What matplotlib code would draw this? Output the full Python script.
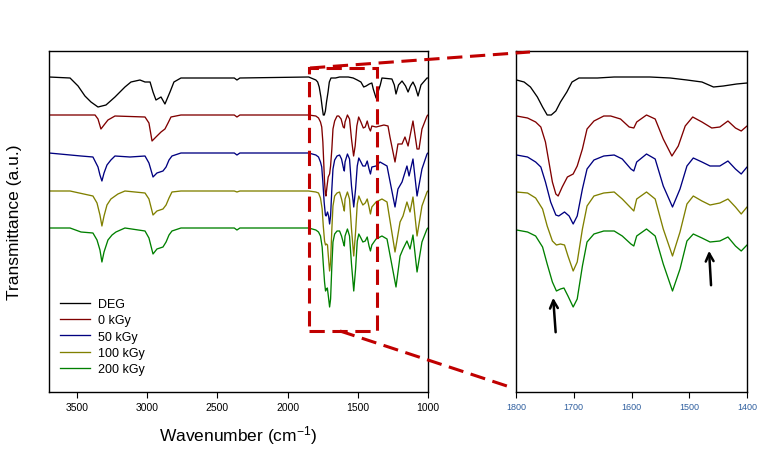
import matplotlib
matplotlib.use("Agg")
import matplotlib.pyplot as plt
from matplotlib.lines import Line2D
from matplotlib.patches import Rectangle

plt.rcParams['font.family'] = ['Liberation Sans', 'DejaVu Sans']
plt.rcParams['mathtext.default'] = 'regular'

labels = ["DEG", "0 kGy", "50 kGy", "100 kGy", "200 kGy"]
colors = ["#000000", "#800000", "#000080", "#808000", "#008000"]
offsets = [315, 277, 239, 201, 164]

wn_deg = [3700, 3550, 3493, 3444, 3401, 3351, 3294, 3230, 3159, 3116,
          3052, 3016, 2980, 2959, 2938, 2902, 2874, 2838, 2810, 2760,
          2380, 2361, 2340, 1850,
          1799, 1786, 1775, 1763, 1754, 1746, 1739, 1731, 1723, 1712,
          1703, 1691, 1659, 1630, 1603, 1568, 1533, 1504, 1478, 1458,
          1441, 1418, 1400,
          1390, 1370, 1340, 1328, 1257, 1240, 1228, 1210, 1185, 1160,
          1142, 1125, 1107, 1090, 1071, 1050, 1007, 1000]
t_deg = [100, 99, 91, 81, 75, 70, 72, 80, 90, 95,
         97, 95, 95, 85, 77, 80, 73, 85, 95, 99,
         99, 97, 99, 100,
         97, 95, 90, 80, 70, 62, 62, 66, 75, 85,
         95, 99, 99, 100, 100, 100, 99, 97, 95, 90,
         91, 93, 94,
         88, 79, 92, 99, 98, 92, 83, 92, 96, 91,
         85, 91, 95, 90, 81, 92, 99, 99]

wn_0 = [3700, 3372, 3351, 3330, 3308, 3280, 3230, 3016, 2988, 2966,
        2938, 2902, 2874, 2852, 2831, 2760, 2380, 2361, 2340, 1850,
        1799, 1780, 1766, 1757, 1749, 1743, 1737, 1731, 1727, 1720,
        1711, 1701, 1694, 1685, 1677, 1665, 1648, 1636, 1619, 1604,
        1596, 1591, 1574, 1559, 1545, 1530, 1519, 1507, 1494, 1478,
        1461, 1447, 1433, 1420, 1410, 1400,
        1370, 1314, 1285, 1271, 1235, 1214, 1185, 1164, 1142, 1114,
        1107, 1078, 1064, 1043, 1007, 1000]
t_0 = [100, 100, 96, 86, 90, 95, 99, 98, 92, 74,
       78, 83, 86, 92, 98, 100, 100, 98, 100, 100,
       99, 97, 93, 88, 73, 53, 33, 21, 19, 28,
       38, 41, 49, 66, 86, 94, 99, 99, 96, 88,
       87, 93, 100, 96, 76, 59, 69, 89, 98, 93,
       87, 88, 94, 87, 84, 89,
       88, 90, 89, 78, 53, 71, 71, 78, 69, 89,
       94, 66, 66, 86, 99, 100]

wn_50 = [3700, 3472, 3387, 3351, 3337, 3323, 3308, 3287, 3259, 3230,
         3123, 3016, 2988, 2959, 2931, 2888, 2866, 2845, 2824, 2760,
         2380, 2361, 2340, 1850,
         1799, 1780, 1766, 1757, 1749, 1740, 1731, 1726, 1716, 1708,
         1701, 1694, 1685, 1677, 1665, 1648, 1630, 1616, 1601, 1596,
         1591, 1574, 1559, 1545, 1529, 1516, 1504, 1493, 1478, 1464,
         1447, 1433, 1420, 1410, 1400,
         1370, 1342, 1292, 1235, 1214, 1185, 1150, 1135, 1107, 1078,
         1043, 1007, 1000]
t_50 = [100, 97, 96, 86, 78, 72, 80, 88, 93, 97,
        96, 97, 90, 76, 80, 82, 86, 93, 97, 100,
        100, 98, 100, 100,
        98, 96, 91, 86, 71, 51, 38, 37, 41, 37,
        29, 37, 64, 84, 93, 97, 98, 94, 84, 82,
        91, 99, 94, 67, 46, 64, 87, 95, 91, 87,
        87, 92, 84, 79, 86,
        87, 91, 87, 46, 64, 71, 87, 77, 94, 57,
        84, 99, 100]

wn_100 = [3700, 3550, 3387, 3358, 3337, 3323, 3308, 3287, 3259, 3209,
          3159, 3016, 2988, 2959, 2931, 2888, 2866, 2845, 2824, 2760,
          2380, 2361, 2340, 1850,
          1799, 1780, 1766, 1754, 1746, 1737, 1730, 1723, 1716, 1710,
          1701, 1694, 1685, 1677, 1665, 1648, 1630, 1616, 1601, 1596,
          1591, 1574, 1559, 1545, 1529, 1516, 1504, 1493, 1478, 1464,
          1447, 1433, 1420, 1410, 1400,
          1370, 1328, 1292, 1235, 1199, 1178, 1150, 1128, 1107, 1078,
          1043, 1007, 1000]
t_100 = [100, 100, 95, 88, 76, 65, 75, 86, 92, 97,
         100, 98, 92, 76, 80, 82, 86, 93, 99, 100,
         100, 99, 100, 100,
         99, 98, 93, 82, 65, 50, 46, 47, 46, 35,
         20, 29, 62, 85, 95, 98, 99, 92, 83, 80,
         92, 99, 92, 62, 35, 59, 87, 95, 90, 86,
         88, 92, 84, 77, 84,
         89, 92, 89, 39, 69, 75, 89, 79, 94, 55,
         85, 99, 100]

wn_200 = [3700, 3550, 3472, 3387, 3358, 3337, 3323, 3308, 3280, 3251,
          3223, 3159, 3016, 2988, 2959, 2931, 2888, 2866, 2845, 2824,
          2760, 2380, 2361, 2340, 1850,
          1799, 1780, 1766, 1754, 1746, 1737, 1730, 1723, 1717, 1710,
          1701, 1694, 1685, 1677, 1665, 1648, 1630, 1616, 1601, 1596,
          1591, 1574, 1559, 1545, 1529, 1516, 1504, 1493, 1478, 1464,
          1447, 1433, 1420, 1410, 1400,
          1370, 1328, 1292, 1228, 1199, 1178, 1150, 1128, 1107, 1078,
          1043, 1007, 1000]
t_200 = [100, 100, 96, 95, 88, 78, 66, 76, 88, 93,
         96, 100, 97, 90, 74, 79, 81, 86, 93, 97,
         100, 100, 98, 100, 100,
         98, 96, 92, 81, 64, 46, 37, 39, 40, 32,
         21, 29, 62, 86, 94, 97, 97, 92, 84, 82,
         92, 99, 92, 64, 37, 59, 87, 94, 90, 86,
         87, 91, 82, 77, 83,
         89, 92, 89, 41, 72, 79, 87, 79, 93, 56,
         86, 99, 100]

series_wn = [wn_deg, wn_0, wn_50, wn_100, wn_200]
series_t = [t_deg, t_0, t_50, t_100, t_200]

left_ticks = [3500, 3000, 2500, 2000, 1500, 1000]
right_ticks = [1800, 1700, 1600, 1500, 1400]

W, H = 764, 452
fig = plt.figure(figsize=(W / 100, H / 100), dpi=100)
ax1 = fig.add_axes([49 / W, 1 - 393 / H, 379 / W, 341 / H])
ax2 = fig.add_axes([516 / W, 1 - 393 / H, 231 / W, 341 / H])

for wn, t, off, c, lab in zip(series_wn, series_t, offsets, colors, labels):
    y = [off - (100 - v) for v in t]
    ax1.plot(wn, y, color=c, lw=0.95, label=lab)
    ax2.plot(wn, y, color=c, lw=0.95)

for ax in (ax1, ax2):
    ax.set_ylim(0, 341)
    ax.set_yticks([])
    for s in ax.spines.values():
        s.set_linewidth(1.0)
    ax.tick_params(axis='x', direction='out', length=4, width=0.8)

ax1.set_xlim(3700, 1000)
ax1.set_xticks(left_ticks)
ax1.set_xticklabels([str(v) for v in left_ticks], fontsize=7.5)
ax1.tick_params(axis='x', pad=3)

ax2.set_xlim(1800, 1400)
ax2.set_xticks(right_ticks)
ax2.set_xticklabels([str(v) for v in right_ticks], fontsize=6.5,
                    color='#2f5f9f')

ax1.set_xlabel("Wavenumber (cm$^{-1}$)", fontsize=12.5, labelpad=8)
fig.text(15 / W, 1 - 222 / H, "Transmittance (a.u.)", rotation=90,
         fontsize=12.5, ha='center', va='center')

leg = ax1.legend(loc='upper left', bbox_to_anchor=(0.028, 0.275), frameon=False,
                 fontsize=9, handlelength=2.4, handletextpad=0.65,
                 labelspacing=0.34, borderpad=0, borderaxespad=0)

red = '#c00000'
rect = Rectangle((1848, 61), 1363 - 1848, 324 - 61, fill=False, edgecolor=red,
                 lw=2.2, linestyle=(0, (5, 2.5)), clip_on=False, zorder=5)
ax1.add_patch(rect)

fig.add_artist(Line2D([310 / W, 530 / W], [1 - 69 / H, 1 - 53 / H], color=red,
                      lw=2.2, linestyle=(0, (5, 2.5)), transform=fig.transFigure))
fig.add_artist(Line2D([340 / W, 513 / W], [1 - 332 / H, 1 - 389 / H], color=red,
                      lw=2.2, linestyle=(0, (5, 2.5)), transform=fig.transFigure))

arrow = dict(arrowstyle='->', color='black', lw=1.8, mutation_scale=14)
ax2.annotate("", xy=(1736, 97), xytext=(1731, 57), arrowprops=arrow)
ax2.annotate("", xy=(1466, 144), xytext=(1462, 104), arrowprops=arrow)

fig.savefig("out.png", dpi=100)
